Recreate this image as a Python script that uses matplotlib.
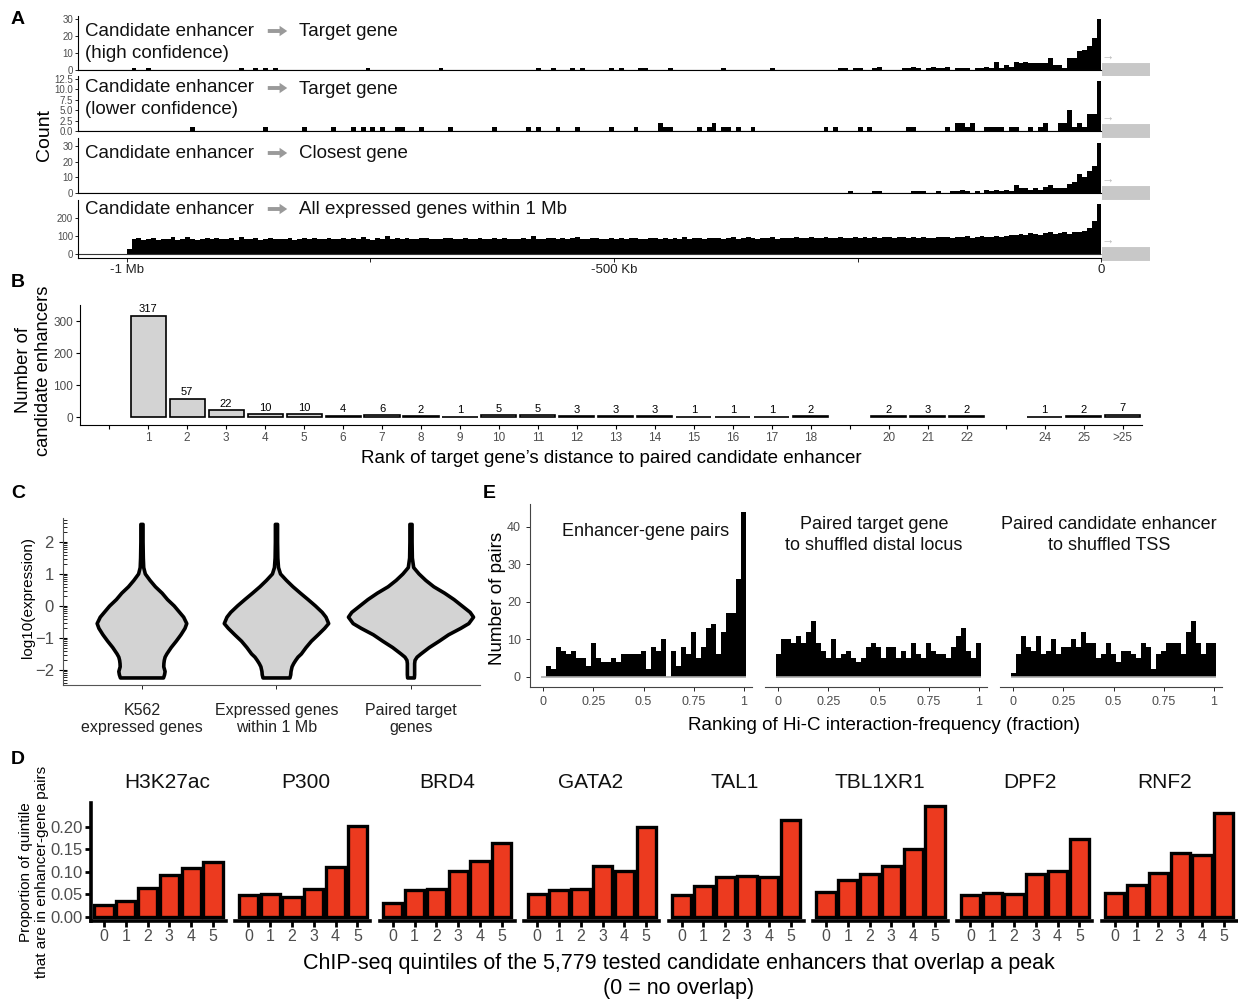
import numpy as np
import matplotlib
matplotlib.use('Agg')
import matplotlib.pyplot as plt

plt.rcParams['font.family'] = ['Liberation Sans', 'DejaVu Sans']

W, H = 1238, 999
fig = plt.figure(figsize=(W / 100, H / 100), dpi=100)
TICK = '#4d4d4d'


def add_ax(x0, y0, x1, y1):
    # axes box given in picture pixels (top-left origin)
    return fig.add_axes([x0 / W, 1 - y1 / H, (x1 - x0) / W, (y1 - y0) / H])


def ftext(x, y, s, **kw):
    fig.text(x / W, 1 - y / H, s, **kw)


'''
Panel A data: 5 kb bins, left edge in kb relative to the TSS
'''
hc_left = [-995, -980, -885, -870, -860, -850, -755, -680, -580, -565, -545, -535,
           -505, -495, -475, -470, -445, -390, -340, -270, -265, -255, -250, -235,
           -230, -205, -200, -195, -190, -180, -175, -170, -165, -160, -150, -145,
           -140, -130, -125, -120, -115, -110, -105, -100, -95, -90, -85, -80, -75,
           -70, -65, -60, -55, -50, -45, -40, -35, -30, -25, -20, -15, -10, -5]
hc_count = [1, 1, 1, 1, 1, 1, 1, 1, 1, 1, 1, 1,
            1, 1, 1, 1, 1, 1, 1, 1, 1, 1, 1, 1,
            2, 1, 1, 2, 1, 1, 2, 1, 1, 2, 1, 1,
            1, 1, 1, 2, 1, 5, 1, 3, 2, 5, 4, 5, 4,
            4, 4, 4, 7, 3, 3, 1, 7, 7, 11, 12, 14, 19, 30]

lc_left = [-935, -860, -820, -790, -770, -760, -750, -740, -725, -720, -700, -670,
           -625, -590, -580, -560, -540, -505, -480, -455, -450, -445, -415, -405,
           -400, -390, -385, -375, -360, -285, -275, -250, -240, -200, -195, -160,
           -150, -145, -140, -135, -120, -115, -110, -105, -95, -90, -75, -65, -60,
           -45, -40, -35, -30, -25, -20, -15, -10, -5]
lc_count = [1, 1, 1, 1, 1, 1, 1, 1, 1, 1, 1, 1,
            1, 1, 1, 1, 1, 1, 1, 2, 1, 1, 1, 1,
            2, 1, 1, 1, 1, 1, 1, 1, 1, 1, 1, 1,
            2, 2, 1, 2, 1, 1, 1, 1, 1, 1, 1, 1, 2,
            2, 2, 5, 1, 2, 1, 4, 4, 12]

cl_left = [-260, -235, -230, -195, -190, -185, -170, -155, -150, -145, -140, -130,
           -120, -115, -110, -105, -100, -95, -90, -85, -80, -75, -70, -65, -60,
           -55, -50, -45, -40, -35, -30, -25, -20, -15, -10, -5]
cl_count = [1, 1, 1, 1, 1, 1, 1, 1, 1, 2, 1, 1,
            2, 1, 2, 1, 2, 1, 5, 3, 3, 2, 3, 2, 4,
            5, 3, 3, 3, 6, 7, 12, 10, 14, 17, 32]

# all expressed genes within 1 Mb, 200 bins from -1000 kb to 0
all_counts = [
    30, 85, 88, 80, 84, 90, 78, 83, 86, 92, 80, 82, 95, 84, 79, 86, 88, 81, 90, 84,
    83, 87, 80, 92, 85, 82, 88, 79, 84, 91, 86, 82, 85, 89, 80, 84, 87, 83, 90, 85,
    84, 88, 82, 86, 90, 83, 87, 85, 92, 84, 80, 88, 86, 98, 84, 87, 82, 89, 85, 83,
    88, 90, 84, 86, 82, 87, 91, 85, 83, 88, 84, 86, 90, 82, 85, 88, 84, 87, 83, 86,
    85, 88, 84, 100, 86, 83, 90, 87, 85, 89, 84, 88, 92, 85, 83, 87, 90, 86, 84, 88,
    85, 89, 83, 87, 91, 86, 84, 90, 88, 85, 87, 84, 89, 86, 92, 85, 88, 90, 86, 89,
    87, 90, 85, 88, 92, 86, 89, 94, 87, 85, 90, 88, 93, 86, 89, 91, 87, 95, 88, 90,
    92, 87, 89, 94, 90, 88, 93, 91, 89, 96, 90, 92, 88, 95, 91, 93, 97, 90, 94, 92,
    90, 93, 88, 95, 91, 89, 97, 92, 94, 90, 96, 93, 98, 91, 95, 99, 94, 97, 102, 96,
    100, 108, 103, 112, 106, 118, 110, 105, 115, 120, 112, 117, 123, 114, 125, 120,
    130, 145, 185, 280,
]
all_left = list(range(-1000, 0, 5))

a_titles = [('Candidate enhancer', 'Target gene', '(high confidence)'),
            ('Candidate enhancer', 'Target gene', '(lower confidence)'),
            ('Candidate enhancer', 'Closest gene', None),
            ('Candidate enhancer', 'All expressed genes within 1 Mb', None)]

'''
Panel B data
'''
rank_labels = [''] + [str(i) for i in range(1, 19)] + ['', '20', '21', '22', '', '24', '25', '>25']
rank_counts = [None, 317, 57, 22, 10, 10, 4, 6, 2, 1, 5, 5, 3, 3, 3, 1, 1, 1, 2,
               None, 2, 3, 2, None, 1, 2, 7]

'''
Panel C data: violin outlines (half width in category units)
'''
violin_names = ['K562\nexpressed genes', 'Expressed genes\nwithin 1 Mb', 'Paired target\ngenes']
violin_y = [2.55, 2.0, 1.5, 1.2, 1.0, 0.8, 0.6, 0.4, 0.2, 0.0, -0.2, -0.35, -0.55,
            -0.7, -0.9, -1.1, -1.3, -1.5, -1.6, -1.7, -1.8, -1.9, -2.05, -2.15, -2.25]
violin_k562 = [0.008, 0.008, 0.01, 0.013, 0.025, 0.06, 0.1, 0.15, 0.19, 0.24, 0.28,
               0.31, 0.333, 0.32, 0.29, 0.255, 0.217, 0.185, 0.172, 0.166, 0.163,
               0.162, 0.172, 0.168, 0.16]
violin_1mb = [0.008, 0.008, 0.01, 0.015, 0.03, 0.074, 0.123, 0.178, 0.235, 0.29, 0.34,
              0.368, 0.388, 0.358, 0.31, 0.26, 0.22, 0.185, 0.16, 0.143, 0.128,
              0.116, 0.108, 0.106, 0.1]
violin_paired = [0.008, 0.008, 0.01, 0.02, 0.06, 0.11, 0.17, 0.25, 0.32, 0.38, 0.44,
                 0.465, 0.43, 0.37, 0.28, 0.21, 0.136, 0.074, 0.045, 0.03, 0.027,
                 0.027, 0.027, 0.027, 0.025]

'''
Panel D data
'''
chip_marks = ['H3K27ac', 'P300', 'BRD4', 'GATA2', 'TAL1', 'TBL1XR1', 'DPF2', 'RNF2']
quintiles = [0, 1, 2, 3, 4, 5]
h3k27ac = [0.026, 0.036, 0.064, 0.094, 0.109, 0.121]
p300 = [0.048, 0.052, 0.045, 0.062, 0.110, 0.202]
brd4 = [0.030, 0.060, 0.062, 0.101, 0.124, 0.165]
gata2 = [0.052, 0.060, 0.063, 0.113, 0.102, 0.200]
tal1 = [0.048, 0.068, 0.089, 0.090, 0.089, 0.215]
tbl1xr1 = [0.055, 0.082, 0.095, 0.113, 0.151, 0.247]
dpf2 = [0.048, 0.053, 0.050, 0.095, 0.102, 0.174]
rnf2 = [0.054, 0.071, 0.097, 0.141, 0.138, 0.230]

'''
Panel E data: 41 bins, centres at 0, 0.025, ... 1
'''
e_titles = ['Enhancer-gene pairs', 'Paired target gene\nto shuffled distal locus',
            'Paired candidate enhancer\nto shuffled TSS']
e_pairs = [0, 3, 2, 8, 7, 6, 7, 5, 5, 3, 9, 5, 4, 4, 5, 4, 6, 6, 6, 6, 7, 2, 8, 7,
           10, 0, 7, 3, 8, 6, 12, 5, 8, 13, 14, 6, 12, 17, 17, 26, 44]
e_shuf_locus = [6, 10, 10, 9, 11, 9, 12, 15, 9, 7, 5, 10, 5, 6, 7, 5, 4, 5, 8, 9, 8,
                5, 8, 8, 5, 7, 5, 9, 6, 5, 9, 7, 6, 6, 5, 8, 11, 13, 7, 5, 9]
e_shuf_tss = [1, 6, 11, 8, 7, 11, 6, 7, 10, 6, 8, 8, 10, 8, 12, 9, 9, 5, 6, 9, 6, 4,
              7, 7, 6, 5, 9, 8, 2, 6, 7, 9, 9, 9, 6, 12, 15, 9, 6, 9, 9]
e_bins = np.arange(41) * 0.025


'''
Panel A
'''
a_boxes = [(16, 70), (76, 131), (138, 193), (200, 258)]
a_ylims = [(0, 31.8), (0, 13.2), (0, 35.1), (-22, 300)]
a_ticks = [([0, 10, 20, 30], ['0', '10', '20', '30']),
           ([0, 2.5, 5, 7.5, 10, 12.5], ['0.0', '2.5', '5.0', '7.5', '10.0', '12.5']),
           ([0, 10, 20, 30], ['0', '10', '20', '30']),
           ([0, 100, 200], ['0', '100', '200'])]
a_data = [(hc_left, hc_count), (lc_left, lc_count), (cl_left, cl_count), (all_left, all_counts)]
a_text_y = [31, 88, 153, 209]

for i in range(4):
    ax = add_ax(78, a_boxes[i][0], 1155, a_boxes[i][1])
    left, cnt = a_data[i]
    ax.bar(left, cnt, width=5, align='edge', color='black', linewidth=0)
    ax.set_xlim(-1050, 55)
    ax.set_ylim(*a_ylims[i])
    ax.set_yticks(a_ticks[i][0])
    ax.set_yticklabels(a_ticks[i][1])
    ax.tick_params(axis='y', labelsize=7, colors='black', labelcolor=TICK, length=2.5, width=0.6, pad=1)
    for s in ['top', 'right']:
        ax.spines[s].set_visible(False)
    ax.spines['left'].set_linewidth(0.8)
    ax.spines['bottom'].set_linewidth(0.8)
    ax.spines['bottom'].set_bounds(-1050, 0)
    ax.hlines(0, -1050, 0, color='#333333', lw=0.8)
    # gene body + TSS arrow
    ax.plot([1, 50], [0, 0], lw=10, color='#c8c8c8', solid_capstyle='butt', clip_on=False)
    ax.annotate('\u2192', xy=(0, 0), xytext=(0, 9), textcoords='offset points',
                fontsize=9, color='#bbbbbb', ha='left', va='center', annotation_clip=False)
    if i < 3:
        ax.spines['bottom'].set_position(('data', 0))
        ax.set_xticks([])
    else:
        ax.set_xticks([-1000, -750, -500, -250, 0])
        ax.set_xticklabels(['-1 Mb', '', '-500 Kb', '', '0'])
        ax.tick_params(axis='x', labelsize=9.5, labelcolor='#222222', length=3, width=0.6, pad=1)
    t1, t2, t3 = a_titles[i]
    ty = a_text_y[i]
    ftext(85, ty, t1, fontsize=13.5, va='center', ha='left', color='#111111')
    ax.annotate('', xy=(290, H - ty), xytext=(265, H - ty), xycoords='figure pixels',
                textcoords='figure pixels',
                arrowprops=dict(arrowstyle='simple,head_length=0.55,head_width=0.75,tail_width=0.28',
                                color='#9a9a9a', lw=0))
    ftext(299, ty + 1, t2, fontsize=13.5, va='center', ha='left', color='#111111')
    if t3:
        ftext(85, ty + 22, t3, fontsize=13.5, va='center', ha='left', color='#111111')

ftext(45, 135, 'Count', fontsize=14, rotation=90, ha='center', va='center')

'''
Panel B
'''
ax = add_ax(80, 305, 1142, 425)
bpos = [i for i, c in enumerate(rank_counts) if c is not None]
bval = [c for c in rank_counts if c is not None]
ax.bar(bpos, bval, width=0.9, color='#d3d3d3', edgecolor='black', linewidth=1.2)
for p, v in zip(bpos, bval):
    ax.text(p, v + 4, str(v), ha='center', va='bottom', fontsize=8)
ax.set_xlim(-0.75, 26.5)
ax.set_ylim(-25, 350)
ax.set_xticks(range(len(rank_labels)))
ax.set_xticklabels(rank_labels)
ax.set_yticks([0, 100, 200, 300])
ax.tick_params(axis='both', labelsize=8.5, labelcolor=TICK, length=3, width=0.8, pad=2)
for s in ['top', 'right']:
    ax.spines[s].set_visible(False)
ax.set_xlabel("Rank of target gene\u2019s distance to paired candidate enhancer", fontsize=13.5, labelpad=4)
ftext(23, 370, 'Number of', fontsize=13.2, rotation=90, ha='center', va='center')
ftext(44, 371, 'candidate enhancers', fontsize=13.2, rotation=90, ha='center', va='center')

'''
Panel C
'''
ax = add_ax(63, 518, 480, 685)
vy = np.array(violin_y)
for pos, wid in zip([1, 2, 3], [violin_k562, violin_1mb, violin_paired]):
    wid = np.array(wid)
    xs = np.concatenate([pos - wid, (pos + wid)[::-1]])
    ys = np.concatenate([vy, vy[::-1]])
    ax.fill(xs, ys, facecolor='#d3d3d3', edgecolor='black', linewidth=2.6, joinstyle='round')
ax.set_xlim(0.413, 3.513)
ax.set_ylim(-2.47, 2.75)
ax.set_xticks([1, 2, 3])
ax.set_xticklabels(violin_names, fontsize=11.5, color='#222222')
ax.set_yticks([-2, -1, 0, 1, 2])
ax.set_yticklabels(['\u22122', '\u22121', '0', '1', '2'])
minor = [d + np.log10(k) for d in range(-3, 3) for k in range(2, 10)]
ax.set_yticks([m for m in minor if -2.47 < m < 2.75], minor=True)
ax.tick_params(axis='y', which='major', labelsize=12, labelcolor=TICK, direction='inout', length=6, width=0.8)
ax.tick_params(axis='y', which='minor', direction='in', length=3, width=0.6)
ax.tick_params(axis='x', length=3, width=0.6, pad=10)
for s in ['top', 'right']:
    ax.spines[s].set_visible(False)
ax.spines['left'].set_color('#555555')
ax.spines['bottom'].set_color('#555555')
ftext(28, 598, 'log10(expression)', fontsize=11, rotation=90, ha='center', va='center')

'''
Panel E
'''
e_x0 = [530, 765, 1000]
e_series = [e_pairs, e_shuf_locus, e_shuf_tss]
e_text_x = [646, 874, 1109]
for k in range(3):
    ax = add_ax(e_x0[k], 504, e_x0[k] + 222, 687)
    ax.hlines(0, -0.0125, 1.0125, color='#aaaaaa', lw=1.2)
    ax.bar(e_bins, e_series[k], width=0.025, color='black', linewidth=0)
    ax.set_xlim(-0.065, 1.04)
    ax.set_ylim(-2.67, 46.1)
    ax.set_xticks([0, 0.25, 0.5, 0.75, 1])
    ax.set_xticklabels(['0', '0.25', '0.5', '0.75', '1'])
    ax.tick_params(axis='both', labelsize=9, labelcolor=TICK, length=3, width=0.6)
    for s in ['top', 'right']:
        ax.spines[s].set_visible(False)
    ax.spines['bottom'].set_color('#444444')
    if k == 0:
        ax.set_yticks([0, 10, 20, 30, 40])
        ax.spines['left'].set_color('#444444')
    else:
        ax.spines['left'].set_visible(False)
        ax.set_yticks([])
    ty = 532 if k == 0 else 535
    ftext(e_text_x[k], ty, e_titles[k], fontsize=13, ha='center', va='center', linespacing=1.35,
          color='#111111')
ftext(884, 725, 'Ranking of Hi-C interaction-frequency (fraction)', fontsize=13.5, ha='center', va='center')
ftext(498, 598, 'Number of pairs', fontsize=13.5, rotation=90, ha='center', va='center')

'''
Panel D
'''
d_series = [h3k27ac, p300, brd4, gata2, tal1, tbl1xr1, dpf2, rnf2]
d_title_x = [167, 306, 447, 591, 735, 880, 1030, 1165]
for k in range(8):
    x0 = 91 + 144.4 * k
    ax = add_ax(x0, 803, x0 + 135, 921)
    ax.bar(quintiles, d_series[k], width=0.88, color='#ec3a1f', edgecolor='black', linewidth=2.4)
    ax.set_xlim(-0.6, 5.6)
    ax.set_ylim(-0.009, 0.253)
    ax.set_xticks(quintiles)
    ax.tick_params(axis='x', labelsize=11.5, labelcolor=TICK, length=4, width=2, pad=2)
    for s in ['top', 'right']:
        ax.spines[s].set_visible(False)
    ax.spines['bottom'].set_linewidth(2.6)
    if k == 0:
        ax.spines['left'].set_linewidth(2.6)
        ax.set_yticks([0, 0.05, 0.1, 0.15, 0.2])
        ax.set_yticklabels(['0.00', '0.05', '0.10', '0.15', '0.20'])
        ax.tick_params(axis='y', labelsize=12, labelcolor=TICK, length=4, width=2, pad=2)
    else:
        ax.spines['left'].set_visible(False)
        ax.set_yticks([])
    ftext(d_title_x[k], 783, chip_marks[k], fontsize=15, ha='center', va='center', color='#111111')
ftext(679, 976, 'ChIP-seq quintiles of the 5,779 tested candidate enhancers that overlap a peak\n(0 = no overlap)',
      fontsize=15.5, ha='center', va='center', linespacing=1.2)
ftext(34, 872, 'Proportion of quintile\nthat are in enhancer-gene pairs', fontsize=11, rotation=90,
      ha='center', va='center', linespacing=1.2)

# panel letters
for lab, (x, y) in zip('ABCDE', [(18, 20), (18, 282), (18, 494), (18, 760), (489, 494)]):
    ftext(x, y, lab, fontsize=14, fontweight='bold', ha='center', va='center')

fig.savefig('out.png', dpi=100)
